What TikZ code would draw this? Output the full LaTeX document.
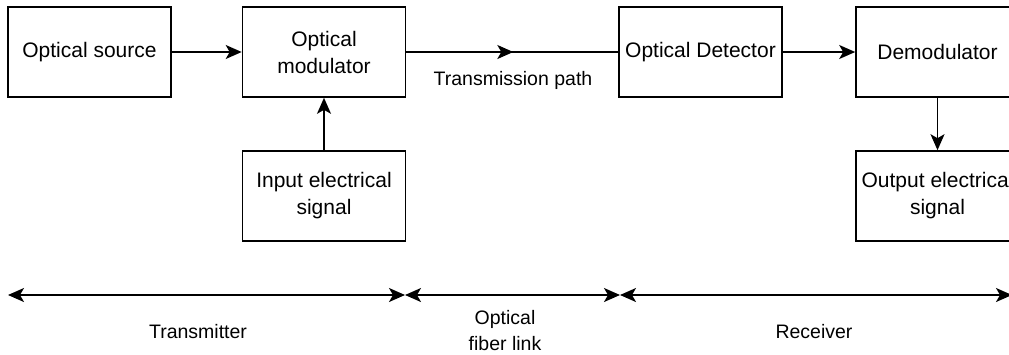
\documentclass[tikz,border=0pt]{standalone}
\usepackage{fontspec}
\setmainfont{Liberation Sans}
\usetikzlibrary{arrows.meta,decorations.markings}

\begin{document}
\begin{tikzpicture}[x=1pt,y=-1pt,
  blockbox/.style={draw, line width=1.6pt, minimum width=163pt, minimum height=90pt,
    inner sep=0pt, align=center, font=\fontsize{21}{27}\selectfont},
  flow/.style={line width=1.6pt, -{Stealth[length=16pt,width=14pt,inset=4pt]}},
  span/.style={line width=1.6pt, {Stealth[length=16pt,width=14pt,inset=4pt]}-{Stealth[length=16pt,width=14pt,inset=4pt]}},
  midarrow/.style={line width=1.6pt, decoration={markings,
    mark=at position 0.505 with {\arrow{Stealth[length=16pt,width=14pt,inset=4pt]}}},
    postaction={decorate}},
  lbl/.style={align=center, inner sep=0pt, font=\fontsize{19.5}{26}\selectfont}]

  \clip (0,0) rectangle (1009,354);

  % transmitter blocks
  \node[blockbox] (src) at (89.5,52)  {Optical source};
  \node[blockbox] (mod) at (324,52)   {Optical\\modulator};
  \node[blockbox] (inp) at (324,196)  {Input electrical\\signal};

  % receiver blocks
  \node[blockbox] (det) at (700.5,52) {Optical Detector};
  \node[blockbox] (dem) at (937.5,52) {Demodulator};
  \node[blockbox] (out) at (937.5,196){Output electrical\\signal};

  % signal flow
  \draw[flow] (src) -- (mod);
  \draw[flow] (inp) -- (mod);
  \draw[midarrow] (mod) -- (det);
  \draw[flow] (det) -- (dem);
  \draw[flow] (dem) -- (out);
  \node[lbl] (path) at (513,80) {Transmission path};

  % section extents
  \coordinate (s0) at (8,295);
  \coordinate (s1) at (405,295);
  \coordinate (s2) at (620,295);
  \coordinate (s3) at (1012,295);
  \draw[span] (s0) -- (s1);
  \draw[span] (s1) -- (s2);
  \draw[span] (s2) -- (s3);

  \node[lbl] (tx)  at (198,332) {Transmitter};
  \node[lbl] (fib) at (505,331) {Optical\\fiber link};
  \node[lbl] (rx)  at (814,332) {Receiver};
\end{tikzpicture}
\end{document}
